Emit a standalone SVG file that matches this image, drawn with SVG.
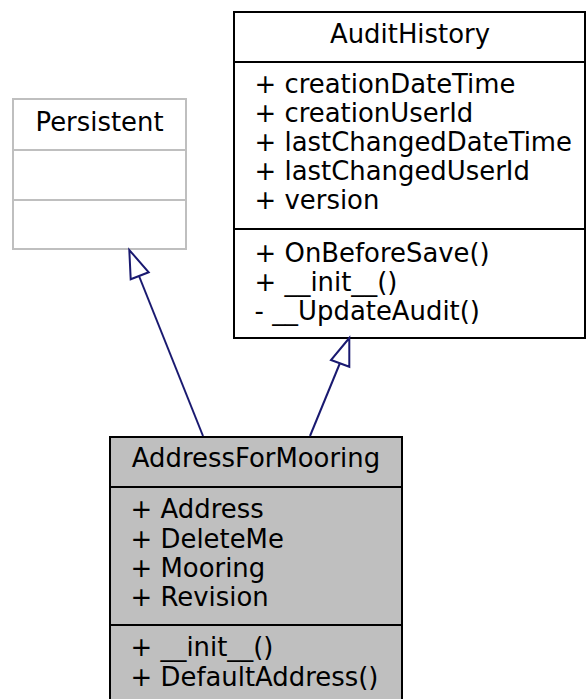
<svg xmlns="http://www.w3.org/2000/svg" width="587" height="699" viewBox="0 0 587 699">
<style>
text{font-family:"DejaVu Sans",sans-serif;font-size:25.9px;fill:#000}
.c{text-anchor:middle}
.box{stroke:#000;stroke-width:2;fill:#fff}
.gbox{stroke:#bfbfbf;stroke-width:2;fill:#fff}
.edge{stroke:#191970;stroke-width:2;fill:none}
.head{stroke:#191970;stroke-width:2;fill:#fff}
</style>
<rect width="587" height="699" fill="#fff"/>
<g id="node-persistent">
<rect class="gbox" x="13" y="99" width="173" height="150"/>
<line class="gbox" x1="13" y1="150" x2="186" y2="150"/>
<line class="gbox" x1="13" y1="200" x2="186" y2="200"/>
<text class="c" x="99.5" y="131">Persistent</text>
</g>
<g id="node-audithistory">
<rect class="box" x="234" y="12" width="351" height="326"/>
<line class="box" x1="234" y1="62" x2="585" y2="62"/>
<line class="box" x1="234" y1="229" x2="585" y2="229"/>
<text class="c" x="410" y="43">AuditHistory</text>
<text x="254.6" y="93">+ creationDateTime</text>
<text x="254.6" y="122">+ creationUserId</text>
<text x="254.6" y="151">+ lastChangedDateTime</text>
<text x="254.6" y="180">+ lastChangedUserId</text>
<text x="254.6" y="209">+ version</text>
<text x="254.6" y="262">+ OnBeforeSave()</text>
<text x="254.6" y="291">+ __init__()</text>
<text x="254.6" y="320">- __UpdateAudit()</text>
</g>
<g id="node-addressformooring">
<rect x="110" y="437" width="292" height="270" fill="#bfbfbf" stroke="#000" stroke-width="2"/>
<line class="box" x1="110" y1="487" x2="402" y2="487"/>
<line class="box" x1="110" y1="625" x2="402" y2="625"/>
<text class="c" x="256" y="467">AddressForMooring</text>
<text x="130.6" y="518">+ Address</text>
<text x="130.6" y="548">+ DeleteMe</text>
<text x="130.6" y="577">+ Mooring</text>
<text x="130.6" y="606">+ Revision</text>
<text x="130.6" y="656">+ __init__()</text>
<text x="130.6" y="686">+ DefaultAddress()</text>
</g>
<g id="connectors">
<line class="edge" x1="203" y1="436" x2="139" y2="276"/>
<polygon class="head" points="129.3,250 130.7,279.3 148.7,272.3"/>
<line class="edge" x1="310" y1="436" x2="340" y2="363"/>
<polygon class="head" points="349.3,338 331,360 349.3,366.7"/>
</g>
</svg>
